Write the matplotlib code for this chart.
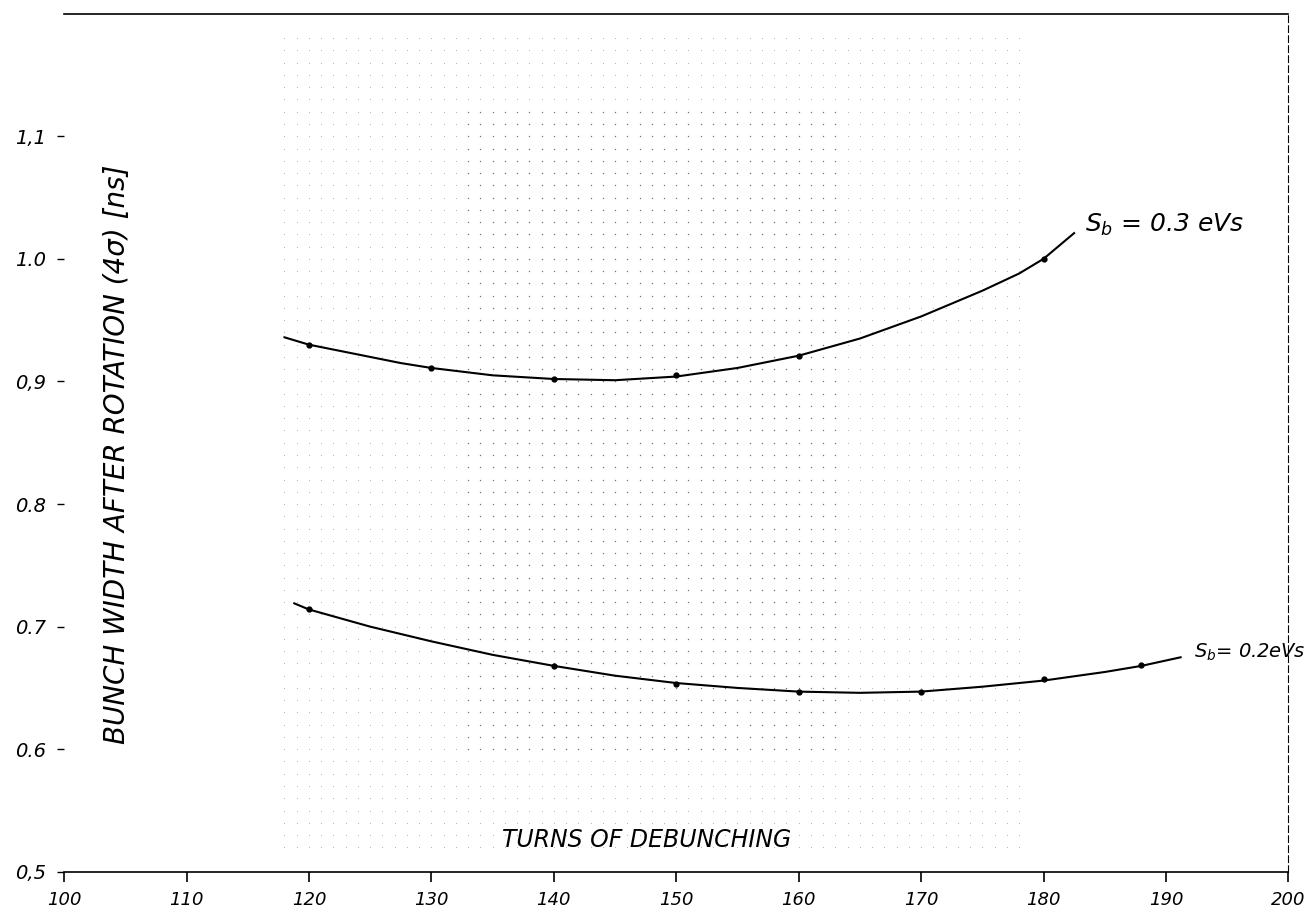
import numpy as np
import matplotlib
matplotlib.use('Agg')
import matplotlib.pyplot as plt

# ------------------------------------------------------------
# DATA
# ------------------------------------------------------------
# S_b = 0.3 eVs : curve trace and plotted points
turns_03_curve = [118, 120, 122.5, 125, 127.5, 130, 135, 140, 145, 150, 155, 160, 165, 170,
                  175, 178, 180, 182.5]
width_03_curve = [0.936, 0.930, 0.925, 0.920, 0.915, 0.911, 0.905, 0.902, 0.901, 0.904, 0.911,
                  0.921, 0.935, 0.953, 0.974, 0.988, 1.000, 1.021]
turns_03_pts = [120, 130, 140, 150, 160, 180]
width_03_pts = [0.930, 0.911, 0.902, 0.905, 0.921, 1.000]

# S_b = 0.2 eVs
turns_02_curve = [118.8, 120, 125, 130, 135, 140, 145, 150, 155, 160, 165, 170, 175, 180, 185,
                  188, 191.2]
width_02_curve = [0.719, 0.714, 0.700, 0.688, 0.677, 0.668, 0.660, 0.654, 0.650, 0.647,
                  0.646, 0.647, 0.651, 0.656, 0.663, 0.668, 0.675]
turns_02_pts = [120, 140, 150, 160, 170, 180, 188]
width_02_pts = [0.714, 0.668, 0.653, 0.647, 0.647, 0.657, 0.669]

x_ticks = [100, 110, 120, 130, 140, 150, 160, 170, 180, 190, 200]
y_ticks = [0.5, 0.6, 0.7, 0.8, 0.9, 1.0, 1.1]
y_ticklabels = ['0,5', '0.6', '0.7', '0.8', '0,9', '1.0', '1,1']

# ------------------------------------------------------------
# FIGURE
# ------------------------------------------------------------
fig = plt.figure(figsize=(13.08, 9.11), dpi=100)
ax = fig.add_axes([0.049, 0.043, 0.936, 0.942])
ax.set_xlim(100, 200)
ax.set_ylim(0.5, 1.2)

# faint graph-paper dots from the photocopy
gx, gy = np.meshgrid(np.arange(118, 179, 1), np.arange(0.52, 1.19, 0.01))
ax.scatter(gx.ravel(), gy.ravel(), s=0.5, color='0.7', lw=0, zorder=0)
dx, dy = np.meshgrid(np.arange(133, 164, 1), np.arange(0.60, 1.12, 0.01))
ax.scatter(dx.ravel(), dy.ravel(), s=1.0, color='0.45', lw=0, zorder=0)

ax.plot(turns_03_curve, width_03_curve, '-', color='black', lw=1.5)
ax.plot(turns_03_pts, width_03_pts, 'o', color='black', ms=3.5)
ax.plot(turns_02_curve, width_02_curve, '-', color='black', lw=1.5)
ax.plot(turns_02_pts, width_02_pts, 'o', color='black', ms=3.5)

ax.text(183.4, 1.028, r'$S_b$ = 0.3 eVs', fontsize=18, fontstyle='italic', va='center')
ax.text(192.3, 0.679, r'$S_b$= 0.2eVs', fontsize=14, fontstyle='italic', va='center')

# axis titles sit inside the frame, as on the original sheet
ax.text(0.043, 0.487, 'BUNCH WIDTH AFTER ROTATION (4σ) [ns]', transform=ax.transAxes,
        rotation=90, fontsize=20, fontstyle='italic', ha='center', va='center')
ax.text(0.476, 0.037, 'TURNS OF DEBUNCHING', transform=ax.transAxes,
        fontsize=17, fontstyle='italic', ha='center', va='center')

ax.set_xticks(x_ticks)
ax.set_xticklabels([str(t) for t in x_ticks], fontsize=13, fontstyle='italic')
ax.set_yticks(y_ticks)
ax.set_yticklabels(y_ticklabels, fontsize=14, fontstyle='italic')
ax.tick_params(axis='x', direction='out', length=7, width=1.2, pad=7)
ax.tick_params(axis='y', direction='out', length=5, width=1.0, pad=8)

ax.spines['left'].set_visible(False)
ax.spines['right'].set_linestyle((0, (6, 3)))
ax.spines['right'].set_linewidth(0.8)
ax.spines['top'].set_linewidth(1.2)
ax.spines['bottom'].set_linewidth(1.2)

fig.savefig('out.png', dpi=100)
